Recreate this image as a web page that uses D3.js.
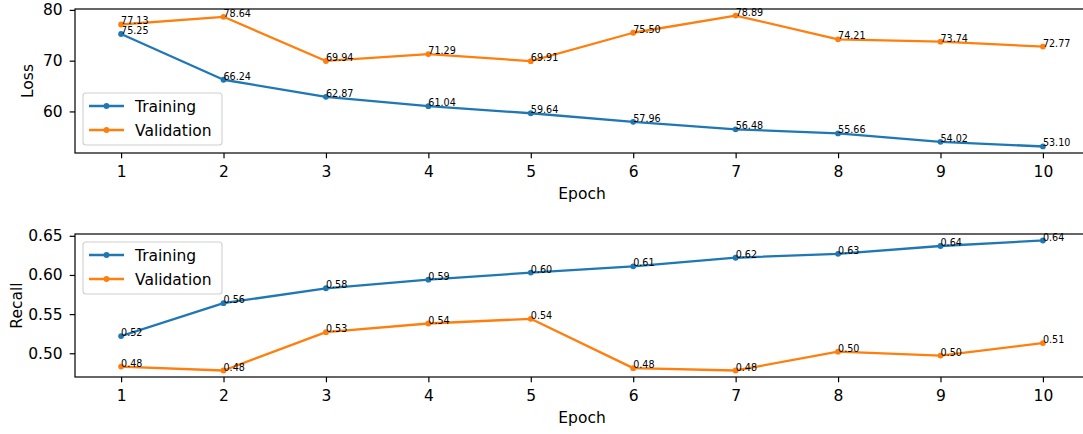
<!DOCTYPE html>
<html>
<head>
<meta charset="utf-8">
<script src="https://cdn.jsdelivr.net/npm/d3@7"></script>
<style>
  html, body { margin: 0; padding: 0; background: #fff; }
  svg { display: block; }
  text { font-family: "DejaVu Sans", sans-serif; fill: #000; }
</style>
</head>
<body>
<svg id="chart" width="1083" height="434"></svg>
<script>
// ---- data ----
const epochs = [1, 2, 3, 4, 5, 6, 7, 8, 9, 10];
const lossTraining = [75.25, 66.24, 62.87, 61.04, 59.64, 57.96, 56.48, 55.66, 54.02, 53.10];
const lossValidation = [77.13, 78.64, 69.94, 71.29, 69.91, 75.50, 78.89, 74.21, 73.74, 72.77];
const recallTraining = [0.522, 0.564, 0.583, 0.594, 0.603, 0.611, 0.622, 0.627, 0.637, 0.644];
const recallValidation = [0.483, 0.478, 0.527, 0.538, 0.544, 0.481, 0.478, 0.502, 0.497, 0.513];
const lossTicks = [60, 70, 80];
const recallTicks = [0.50, 0.55, 0.60, 0.65];
const seriesNames = ["Training", "Validation"];
const colors = ["#1f77b4", "#ff7f0e"];

const svg = d3.select("#chart");
const FS = 15.5;      // main text
const AFS = 9.6;      // annotations
const TICK = 5.3;

function panel(cfg) {
  const { top, bottom, left, right, train, val, ticks, fmt, ylabel, ylabelX, legend } = cfg;
  const g = svg.append("g");
  const x = d3.scaleLinear().domain([0.55, 10.45]).range([left, right]);
  const all = train.concat(val);
  const mn = d3.min(all), mx = d3.max(all), r = mx - mn;
  const y = d3.scaleLinear().domain([mn - 0.05 * r, mx + 0.05 * r]).range([bottom, top]);

  // axes
  const xAxis = d3.axisBottom(x).tickValues(epochs).tickFormat(d3.format("d"))
    .tickSize(TICK).tickPadding(7.2);
  const gx = g.append("g").attr("transform", `translate(0,${bottom})`).call(xAxis);
  const yAxis = d3.axisLeft(y).tickValues(ticks).tickFormat(fmt)
    .tickSize(TICK).tickPadding(7);
  const gy = g.append("g").attr("transform", `translate(${left},0)`).call(yAxis);
  [gx, gy].forEach(a => {
    a.select(".domain").remove();
    a.selectAll(".tick line").attr("stroke", "#000").attr("stroke-width", 1.2);
    a.selectAll(".tick text").style("font-size", FS + "px").style("font-family", "DejaVu Sans").attr("fill", "#000");
  });

  // frame
  g.append("rect").attr("x", left).attr("y", top)
    .attr("width", right - left).attr("height", bottom - top)
    .attr("fill", "none").attr("stroke", "#000").attr("stroke-width", 1.2);

  // lines
  const line = d3.line().x((d, i) => x(epochs[i])).y(d => y(d));
  [train, val].forEach((s, k) => {
    g.append("path").datum(s).attr("d", line)
      .attr("fill", "none").attr("stroke", colors[k]).attr("stroke-width", 2.3)
      .attr("stroke-linejoin", "round").attr("stroke-linecap", "square");
    g.selectAll(null).data(s).enter().append("circle")
      .attr("cx", (d, i) => x(epochs[i])).attr("cy", d => y(d)).attr("r", 2.9)
      .attr("fill", colors[k]);
    g.selectAll(null).data(s).enter().append("text")
      .attr("x", (d, i) => x(epochs[i])).attr("y", d => y(d))
      .style("font-size", AFS + "px")
      .text(d => d3.format(".2f")(d));
  });

  // labels
  g.append("text").attr("x", (left + right) / 2).attr("y", bottom + 46.3)
    .attr("text-anchor", "middle").style("font-size", FS + "px").text("Epoch");
  g.append("text").attr("transform", `translate(${ylabelX},${(top + bottom) / 2}) rotate(-90)`)
    .attr("text-anchor", "middle").style("font-size", FS + "px").text(ylabel);

  // legend
  const lg = g.append("g");
  lg.append("rect").attr("x", legend.x).attr("y", legend.y).attr("width", 139).attr("height", 52)
    .attr("rx", 3).attr("fill", "#fff").attr("fill-opacity", 0.8)
    .attr("stroke", "#d0d0d0").attr("stroke-width", 1.1);
  seriesNames.forEach((n, k) => {
    const cy = legend.y + 13 + k * 24;
    lg.append("line").attr("x1", legend.x + 6).attr("x2", legend.x + 41)
      .attr("y1", cy).attr("y2", cy).attr("stroke", colors[k]).attr("stroke-width", 2.3);
    lg.append("circle").attr("cx", legend.x + 23.5).attr("cy", cy).attr("r", 2.9).attr("fill", colors[k]);
    lg.append("text").attr("x", legend.x + 52).attr("y", cy).attr("dy", "0.36em")
      .style("font-size", FS + "px").text(n);
  });
}

panel({ top: 9, bottom: 153, left: 75, right: 1089, train: lossTraining, val: lossValidation,
  ticks: lossTicks, fmt: d3.format("d"), ylabel: "Loss", ylabelX: 33.3, legend: { x: 83, y: 93 } });
panel({ top: 234, bottom: 377, left: 75, right: 1089, train: recallTraining, val: recallValidation,
  ticks: recallTicks, fmt: d3.format(".2f"), ylabel: "Recall", ylabelX: 21.7, legend: { x: 83, y: 242 } });
</script>
</body>
</html>
